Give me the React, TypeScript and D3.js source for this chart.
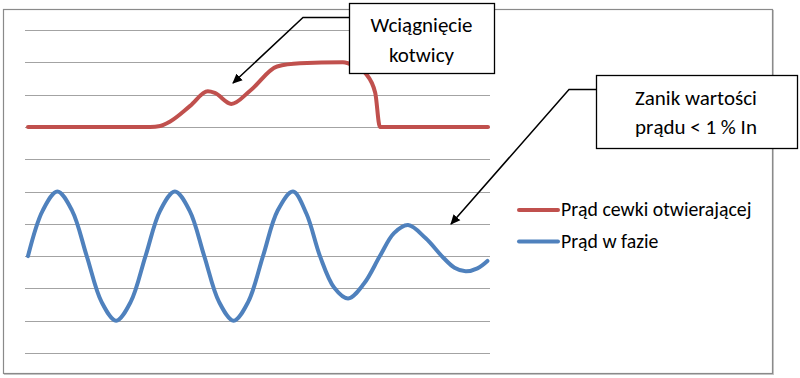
import React from "react";
import * as d3 from "d3";

// time axis (ms) and values (in gridline units)
const redTime = [0, 20.8, 22.5, 24.2, 27.6, 30.6, 31.8, 34.6, 37.8, 42.4, 46.3, 53.6, 55.7, 57.4, 59.1, 59.9, 78.3];
const redValue = [2.0, 2.0, 2.03, 2.17, 2.65, 3.1, 3.05, 2.71, 3.12, 3.87, 3.97, 4.0, 3.87, 3.67, 3.06, 2.0, 2.0];

const blueTime = [0, 2.5, 5, 7.5, 10, 12.5, 15, 17.5, 20, 22.5, 25, 27.5, 30, 32.5, 35, 37.5, 40, 42.5, 45.1, 47.4, 49.7, 52.1, 54.5, 57.2, 59.9, 62.3, 64.7, 67.7, 70.7, 72.6, 74.5, 76.5, 78.2];
const blueValue = [-2, -0.59, 0, -0.59, -2, -3.41, -4, -3.41, -2, -0.59, 0, -0.59, -2, -3.41, -4, -3.41, -2, -0.59, 0, -0.69, -2, -2.97, -3.31, -2.85, -2, -1.29, -1.04, -1.45, -2.05, -2.36, -2.47, -2.38, -2.15];

const gridValues = [-5, -4, -3, -2, -1, 0, 1, 2, 3, 4, 5];

const seriesNames = ["Prąd cewki otwierającej", "Prąd w fazie"];
const seriesColors = ["#C0504D", "#4F81BD"];

const note1Lines = ["Wciągnięcie", "kotwicy"];
const note2Lines = ["Zanik wartości", "prądu < 1 % In"];

const W = 800;
const H = 378;
const FONT = "Carlito, Calibri, Lato, 'Open Sans', sans-serif";

export default function App() {
  const x = d3.scaleLinear().domain([0, 78.3]).range([28, 488]);
  const y = d3.scaleLinear().domain([-5, 5]).range([353, 30]);

  const redLine = d3
    .line<[number, number]>()
    .x((d) => x(d[0]))
    .y((d) => y(d[1]))
    .curve(d3.curveMonotoneX);

  const blueLine = d3
    .line<[number, number]>()
    .x((d) => x(d[0]))
    .y((d) => y(d[1]))
    .curve(d3.curveCatmullRom.alpha(0.5));

  const redPts = redTime.map((t, i) => [t, redValue[i]] as [number, number]);
  const bluePts = blueTime.map((t, i) => [t, blueValue[i]] as [number, number]);

  return (
    <svg
      width={W}
      height={H}
      style={{ position: "absolute", left: 0, top: 0, background: "#fff" }}
      fontFamily={FONT}
    >
      <defs>
        <marker id="arrow" viewBox="0 0 10 10" refX="9" refY="5" markerWidth="10" markerHeight="10" orient="auto" markerUnits="userSpaceOnUse">
          <path d="M0,0.5 L10,5 L0,9.5 z" fill="#000" />
        </marker>
      </defs>
      <rect x={0} y={0} width={W} height={H} fill="#fff" />
      {/* chart border with slight shadow */}
      <rect x={4.5} y={10.5} width={769} height={364} fill="none" stroke="#c8c8c8" strokeWidth={1} />
      <rect x={3.5} y={9.5} width={769} height={364} fill="#fff" stroke="#8a8a8a" strokeWidth={1.2} />

      {gridValues.map((v) => (
        <line key={v} x1={25} x2={490} y1={Math.round(y(v)) + 0.5} y2={Math.round(y(v)) + 0.5} stroke="#a3a3a3" strokeWidth={1} />
      ))}

      <path d={redLine(redPts) || ""} fill="none" stroke={seriesColors[0]} strokeWidth={4} strokeLinejoin="round" strokeLinecap="round" />
      <path d={blueLine(bluePts) || ""} fill="none" stroke={seriesColors[1]} strokeWidth={4} strokeLinejoin="round" strokeLinecap="round" />

      {/* legend */}
      {seriesNames.map((name, i) => (
        <g key={name}>
          <line x1={519} x2={558} y1={210 + i * 31.5} y2={210 + i * 31.5} stroke={seriesColors[i]} strokeWidth={4} strokeLinecap="round" />
          <text x={561} y={216 + i * 31.5} fontSize={19.8} fill="#000">{name}</text>
        </g>
      ))}

      {/* annotation 1 */}
      <polyline points="349,17.5 303,17.5 233,83" fill="none" stroke="#000" strokeWidth={1.5} markerEnd="url(#arrow)" />
      <rect x={349.5} y={3.5} width={145} height={70} fill="#fff" stroke="#000" strokeWidth={1.3} />
      {note1Lines.map((t, i) => (
        <text key={t} x={421.5} y={32 + i * 30} fontSize={21} textAnchor="middle" fill="#000">{t}</text>
      ))}

      {/* annotation 2 */}
      <polyline points="596,89.5 569,89.5 451,224" fill="none" stroke="#000" strokeWidth={1.5} markerEnd="url(#arrow)" />
      <rect x={596.5} y={75.5} width={201} height={73} fill="#fff" stroke="#000" strokeWidth={1.3} />
      {note2Lines.map((t, i) => (
        <text key={t} x={696} y={105 + i * 28.5} fontSize={21} textAnchor="middle" fill="#000">{t}</text>
      ))}
    </svg>
  );
}
